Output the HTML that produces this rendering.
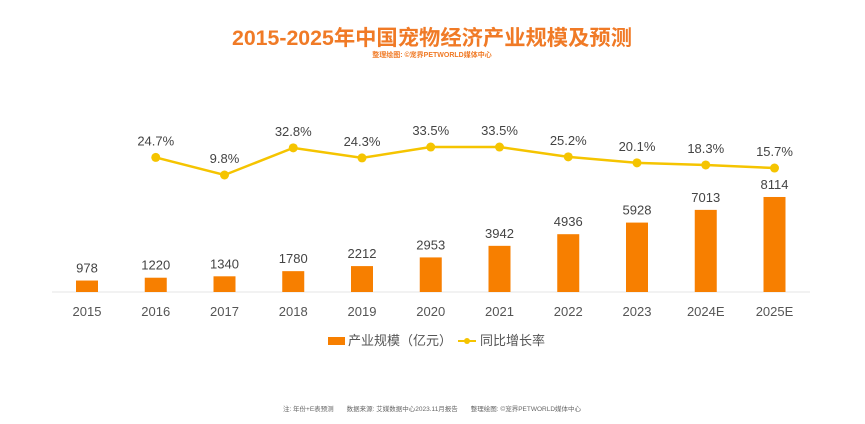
<!DOCTYPE html>
<html><head><meta charset="utf-8">
<style>
body{margin:0;background:#fff;width:865px;height:424px;overflow:hidden;font-family:"Liberation Sans","Noto Sans CJK SC",sans-serif;}
svg{display:block}
</style></head>
<body>
<svg id="chart" width="865" height="424" viewBox="0 0 865 424">
<text x="432" y="45" text-anchor="middle" font-size="21.3" font-weight="bold" fill="#f07a26" font-family="Liberation Sans, Noto Sans CJK SC, sans-serif">2015-2025年中国宠物经济产业规模及预测</text>
<text x="432" y="57" text-anchor="middle" font-size="7" font-weight="bold" fill="#f07a26">整理绘图: ©宠界PETWORLD媒体中心</text>
<line x1="52" y1="292" x2="810" y2="292" stroke="#e6e6e6" stroke-width="1"/>
<g id="bars"></g>
<g id="line"></g>
<g id="xlabels"></g>
<g>
<rect x="328" y="337" width="17" height="8" fill="#f77f00"/>
<text x="348" y="345" font-size="13" fill="#555">产业规模（亿元）</text>
<line x1="458" y1="341" x2="476" y2="341" stroke="#f5c400" stroke-width="2"/>
<circle cx="467" cy="341" r="3" fill="#f5c400"/>
<text x="480" y="345" font-size="13" fill="#555">同比增长率</text>
</g>
<text x="432" y="411" text-anchor="middle" font-size="6.5" fill="#666">注: 年份+E表预测　　数据来源: 艾媒数据中心2023.11月报告　　整理绘图: ©宠界PETWORLD媒体中心</text>
</svg>
<script>
const years=["2015","2016","2017","2018","2019","2020","2021","2022","2023","2024E","2025E"];
const sizes=[978,1220,1340,1780,2212,2953,3942,4936,5928,7013,8114];
const growth=[null,24.7,9.8,32.8,24.3,33.5,33.5,25.2,20.1,18.3,15.7];
const NS="http://www.w3.org/2000/svg";
function xPos(i){return 87+i*68.75;}
function yBar(v){return 292-v*0.01171;}
function yLine(v){return 175-(v-9.8)*1.18;}
function mk(tag,attrs,parent){const e=document.createElementNS(NS,tag);for(const k in attrs)e.setAttribute(k,attrs[k]);parent.appendChild(e);return e;}
const gb=document.getElementById('bars'),gl=document.getElementById('line'),gx=document.getElementById('xlabels');
years.forEach((y,i)=>{
  const x=xPos(i),top=yBar(sizes[i]);
  const r=mk('rect',{x:x-11,y:top,width:22,height:292-top,fill:'#f77f00'},gb);
  
  
  const t=mk('text',{x:x,y:top-8,'text-anchor':'middle','font-size':'13',fill:'#444'},gb);
  t.textContent=sizes[i];
  
  
  const xl=mk('text',{x:x,y:316,'text-anchor':'middle','font-size':'13',fill:'#555'},gx);
  xl.textContent=y;
  
  
});
let pts=[];
growth.forEach((g,i)=>{if(g!==null)pts.push([xPos(i),yLine(g),g,years[i]]);});
const pl=mk('polyline',{points:pts.map(p=>p[0]+','+p[1]).join(' '),fill:'none',stroke:'#f5c400','stroke-width':'2.5'},gl);


pts.forEach(p=>{
  const c=mk('circle',{cx:p[0],cy:p[1],r:4.5,fill:'#f5c400'},gl);
  
  
  const t=mk('text',{x:p[0],y:p[1]-12,'text-anchor':'middle','font-size':'13',fill:'#444'},gl);
  t.textContent=p[2].toFixed(1)+'%';
  
  
});
</script>
</body></html>
